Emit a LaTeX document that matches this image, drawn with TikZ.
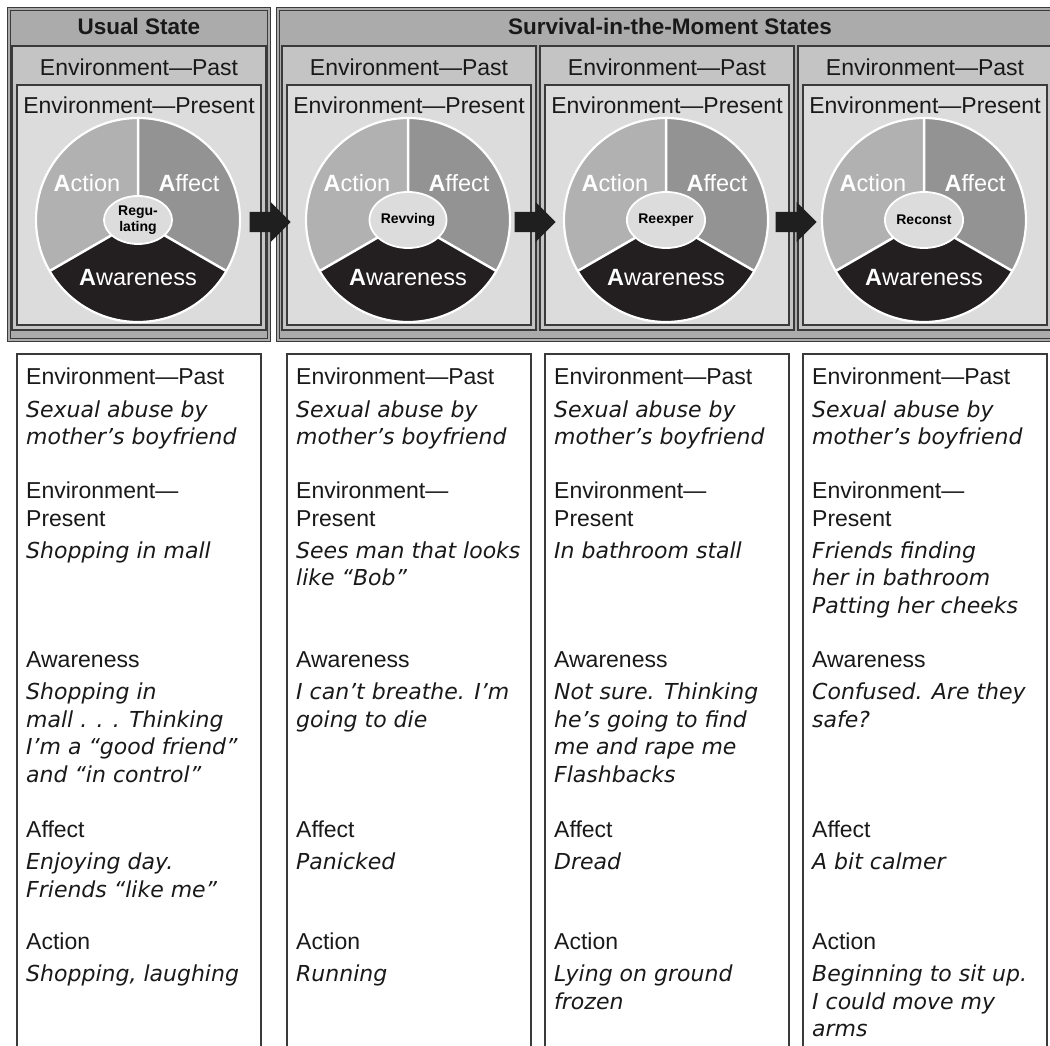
\documentclass[tikz,border=0pt]{standalone}
\usepackage{fontspec}
\setmainfont{Liberation Sans}
\newfontfamily\handfont{DejaVu Sans}
\usetikzlibrary{shapes.geometric,shapes.arrows}
\definecolor{hdrgray}{HTML}{ABABAB}
\definecolor{pastgray}{HTML}{C4C4C4}
\definecolor{presgray}{HTML}{DCDCDC}
\definecolor{actgray}{HTML}{B1B1B1}
\definecolor{affgray}{HTML}{939393}
\definecolor{awaregray}{HTML}{231F20}
\definecolor{linegray}{HTML}{3A3A3A}

\newcommand{\hs}{\rule{0pt}{20pt}}
% one column of notes under a state
\newcommand{\notecolumn}[7]{%
  \node[notebox,minimum width=244,minimum height=720,anchor=north west] (notes#1) at (#2,354) {};
  \node[labeltxt] (pastlab#1) at (#2+9,364.5) {\hs Environment—Past};
  \node[datatxt] (pastnote#1) at (#2+9,397) {\hs#3};
  \node[labeltxt] (preslab#1) at (#2+9,478.5) {\hs Environment—\\Present};
  \node[datatxt] (presnote#1) at (#2+9,538) {\hs#4};
  \node[labeltxt] (awarelab#1) at (#2+9,647.5) {\hs Awareness};
  \node[datatxt] (awarenote#1) at (#2+9,679.5) {\hs#5};
  \node[labeltxt] (afflab#1) at (#2+9,817.5) {\hs Affect};
  \node[datatxt] (affnote#1) at (#2+9,849.5) {\hs#6};
  \node[labeltxt] (actlab#1) at (#2+9,929.5) {\hs Action};
  \node[datatxt] (actnote#1) at (#2+9,961.5) {\hs#7};
}

\begin{document}
\begin{tikzpicture}[x=1pt,y=-1pt,
  outerbox/.style={draw=linegray,line width=1pt,double=hdrgray,double distance=2.5pt,
                   fill=hdrgray,outer sep=0pt},
  pastbox/.style={draw=linegray,line width=1.1pt,fill=pastgray,outer sep=0pt},
  presbox/.style={draw=linegray,line width=1.1pt,fill=presgray,outer sep=0pt},
  notebox/.style={draw=linegray,line width=1.2pt,fill=white,outer sep=0pt},
  hdrtxt/.style={font=\bfseries\fontsize{22.5}{26}\selectfont,text=black!90},
  pasttxt/.style={font=\fontsize{23}{27}\selectfont,text=black!90},
  prestxt/.style={font=\fontsize{23}{27}\selectfont,text=black!90},
  slicetxt/.style={font=\fontsize{23.5}{27}\selectfont,text=white},
  hubnode/.style={ellipse,draw=white,line width=1.8pt,fill=presgray,inner sep=0pt,
                  align=center,font=\bfseries\fontsize{14}{15.5}\selectfont},
  blockarrow/.style={single arrow,fill=black!88,inner xsep=0pt,inner ysep=10pt,
                     single arrow head extend=10pt,minimum height=41pt},
  labeltxt/.style={anchor=north west,inner sep=0pt,align=left,text=black!90,
                   font=\fontsize{23}{27.5}\selectfont},
  datatxt/.style={anchor=north west,inner sep=0pt,align=left,text=black!90,
                  font=\handfont\itshape\fontsize{22}{27.5}\selectfont}
]
  \useasboundingbox (0,0) rectangle (1050,1046);
  \clip (0,0) rectangle (1050,1046);
  \fill[white] (0,0) rectangle (1050,1046);

  % state frames
  \node[outerbox,minimum width=260,minimum height=331,anchor=north west] (usual) at (9,9) {};
  \node[outerbox,minimum width=790,minimum height=331,anchor=north west] (survival) at (278,9) {};
  \node[hdrtxt] (usualhdr) at (139,26) {Usual State};
  \node[hdrtxt] (survhdr) at (670,26) {Survival-in-the-Moment States};

  % panels with the wheel
  \foreach \i/\px/\hub/\hw/\hh in {1/17/{Regu-\\lating}/68/48, 2/287/Revving/74/56,
                                   3/545/Reexper/74/56, 4/803/Reconst/74/56}{
    \node[pastbox,minimum width=254,minimum height=284,anchor=north west] (past\i) at (\px-5,46) {};
    \node[presbox,minimum width=244,minimum height=240,anchor=north west] (pres\i) at (\px,85) {};
    \node[pasttxt] (pasthdr\i) at (\px+122,67) {Environment—Past};
    \node[prestxt] (preshdr\i) at (\px+122,105) {Environment—Present};
    \coordinate (c\i) at (\px+121,220);
    \fill[actgray] (c\i) -- ++(-90:102) arc[start angle=-90,end angle=-210,radius=102] -- cycle;
    \fill[affgray] (c\i) -- ++(-90:102) arc[start angle=-90,end angle=30,radius=102] -- cycle;
    \fill[awaregray] (c\i) -- ++(-210:102) arc[start angle=-210,end angle=-330,radius=102] -- cycle;
    \draw[white,line width=2.5pt] (c\i) -- ++(-90:102) (c\i) -- ++(-210:102) (c\i) -- ++(30:102);
    \draw[white,line width=2.2pt] (c\i) circle[radius=102];
    \node[hubnode,minimum width=\hw,minimum height=\hh] (hub\i) at (c\i) {\hub};
    \node[slicetxt] (act\i) at ([xshift=-51pt,yshift=37pt]c\i) {\textbf{A}ction};
    \node[slicetxt] (aff\i) at ([xshift=51pt,yshift=37pt]c\i) {\textbf{A}ffect};
    \node[slicetxt] (aware\i) at ([yshift=-58pt]c\i) {\textbf{A}wareness};
  }

  % arrows between states
  \node[blockarrow,anchor=tip] (arrow1) at (291,222) {};
  \node[blockarrow,anchor=tip] (arrow2) at (556,222) {};
  \node[blockarrow,anchor=tip] (arrow3) at (817,222) {};

  % notes
  \notecolumn{1}{17}{Sexual abuse by\\mother’s boyfriend}{Shopping in mall}
    {Shopping in\\mall . . . Thinking\\I’m a “good friend”\\and “in control”}
    {Enjoying day.\\Friends “like me”}{Shopping, laughing}
  \notecolumn{2}{287}{Sexual abuse by\\mother’s boyfriend}{Sees man that looks\\like “Bob”}
    {I can’t breathe. I’m\\going to die}{Panicked}{Running}
  \notecolumn{3}{545}{Sexual abuse by\\mother’s boyfriend}{In bathroom stall}
    {Not sure. Thinking\\he’s going to find\\me and rape me\\Flashbacks}{Dread}
    {Lying on ground\\frozen}
  \notecolumn{4}{803}{Sexual abuse by\\mother’s boyfriend}
    {Friends finding\\her in bathroom\\Patting her cheeks}
    {Confused. Are they\\safe?}{A bit calmer}
    {Beginning to sit up.\\I could move my\\arms}
\end{tikzpicture}
\end{document}
